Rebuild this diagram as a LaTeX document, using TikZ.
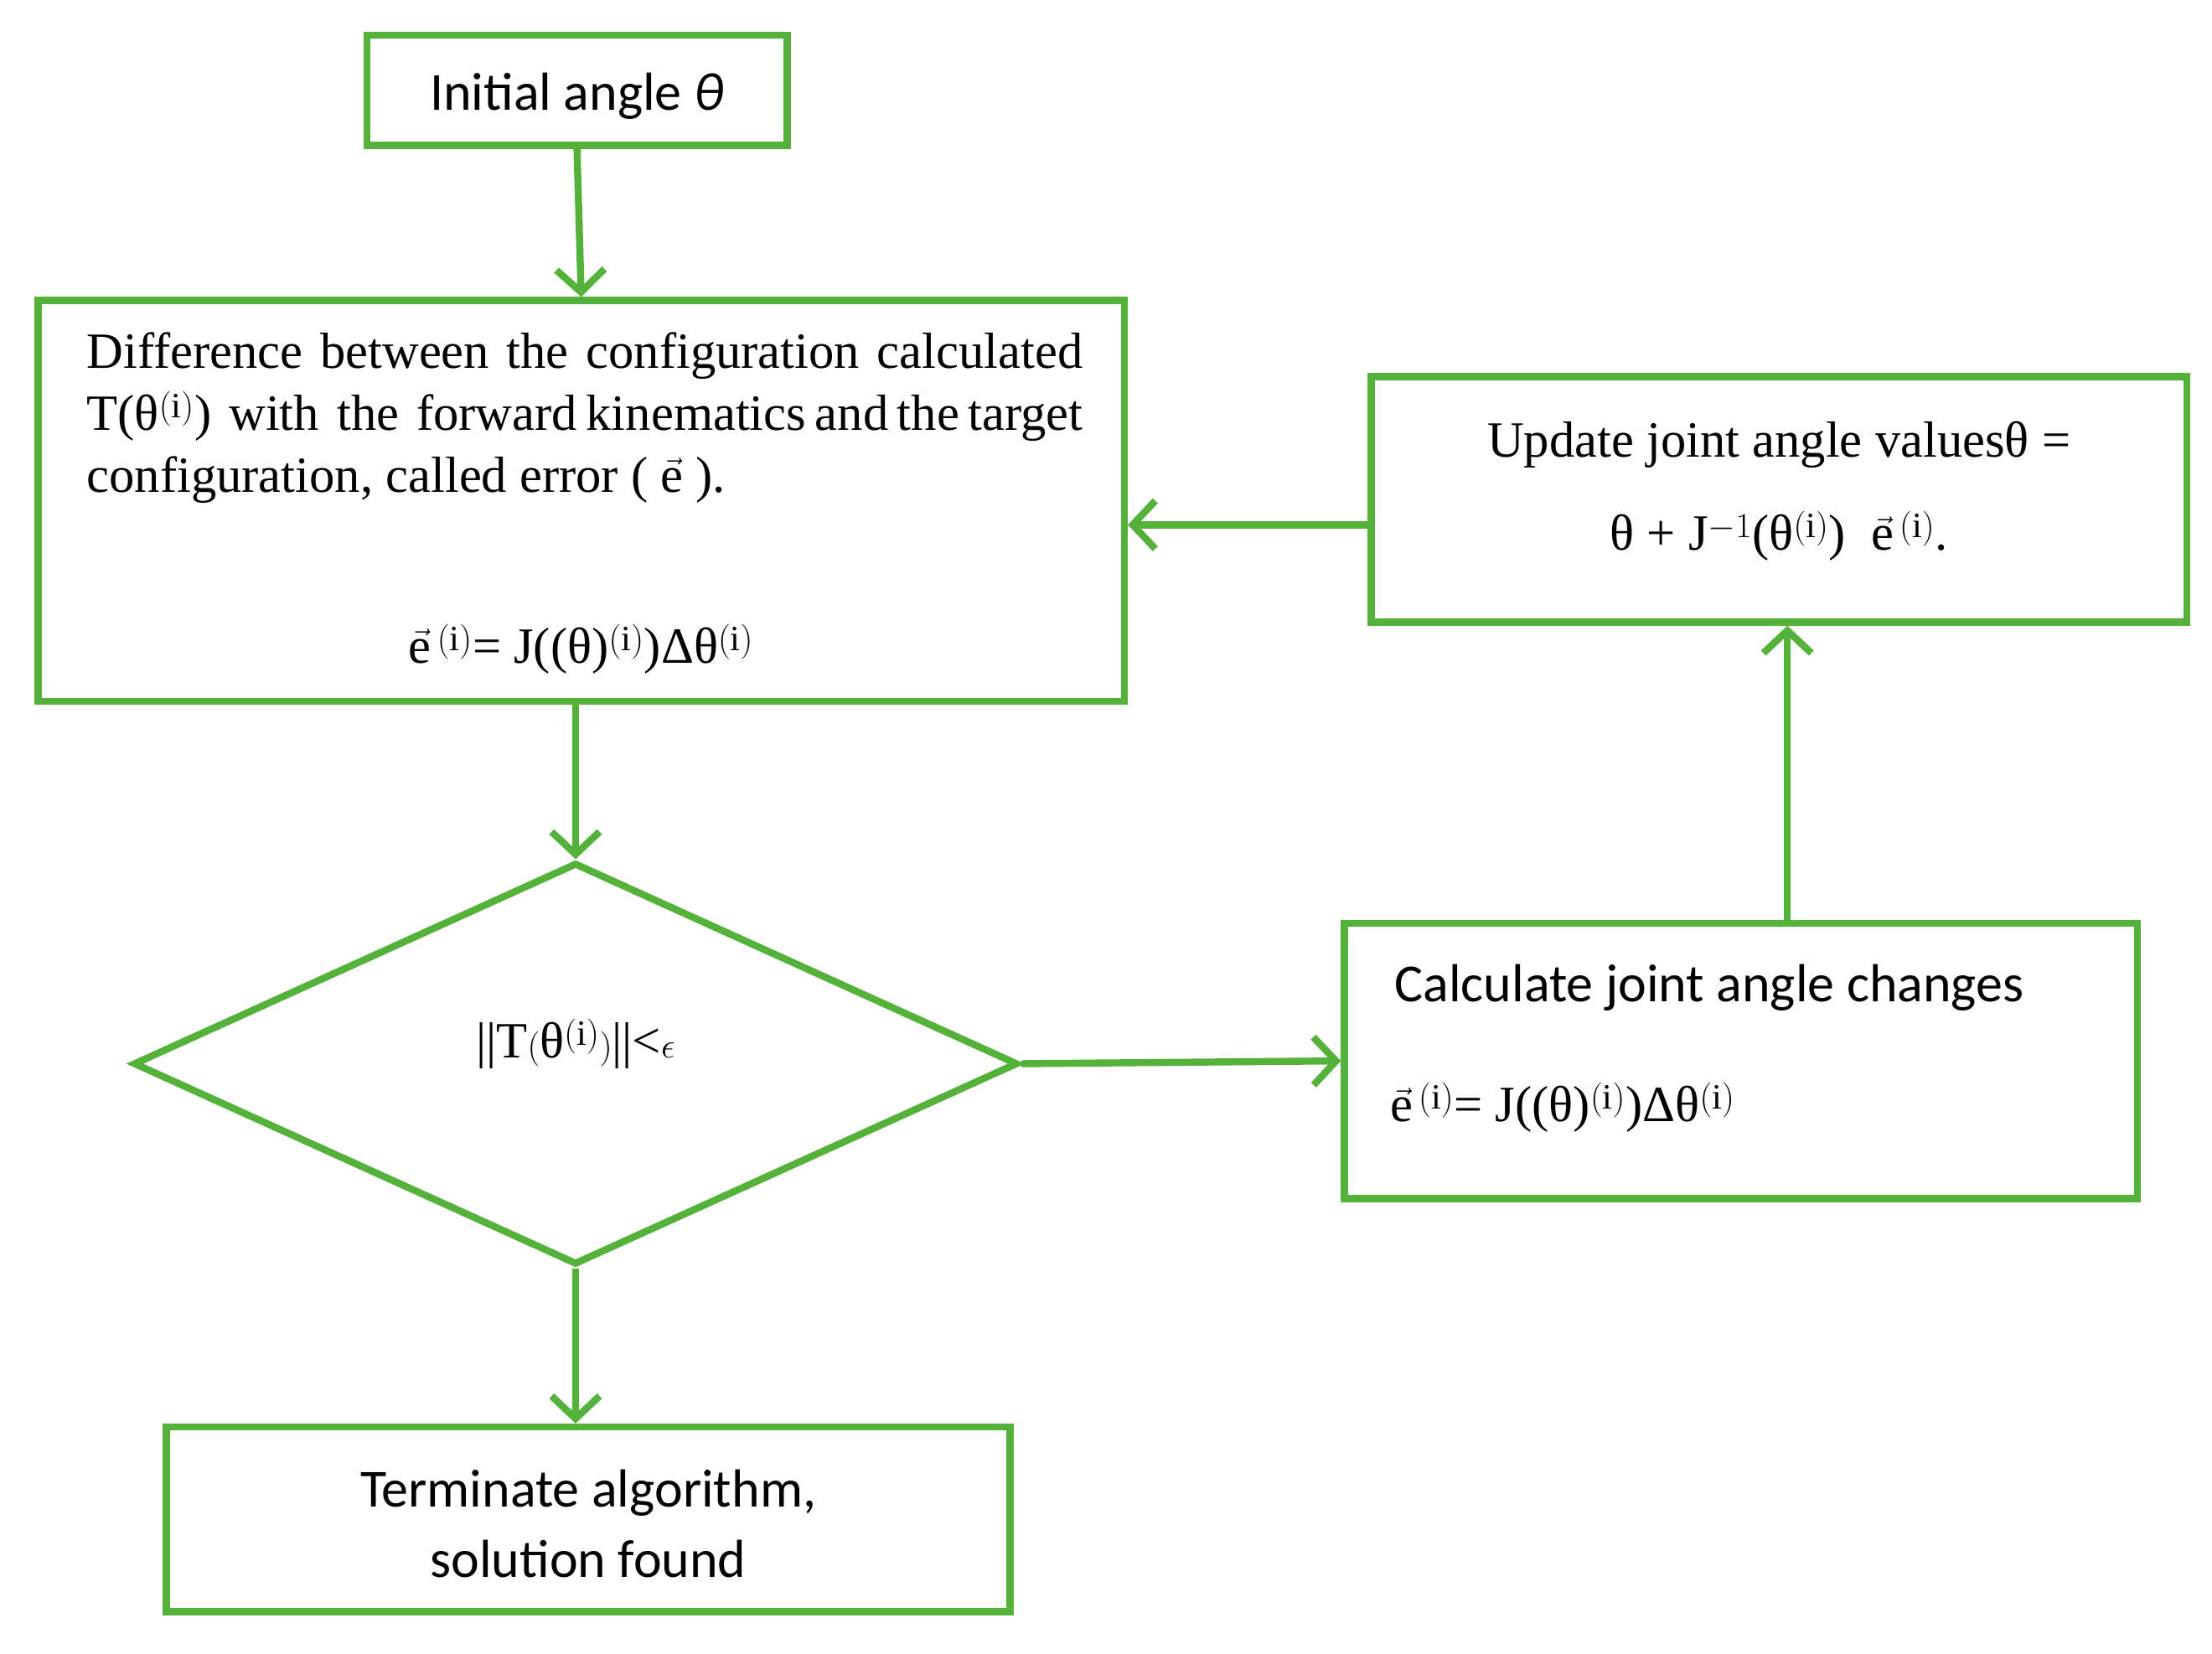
\documentclass[tikz,border=0pt]{standalone}
\usepackage{fontspec}
\setmainfont{Liberation Serif}
\newfontfamily\carl{Carlito}
\usetikzlibrary{shapes.geometric,arrows.meta}
\definecolor{gr}{RGB}{84,178,58}
\begin{document}
\begin{tikzpicture}[x=1pt,y=-1pt,
 bx/.style={draw=gr,line width=5pt,rectangle,inner sep=0pt},
 ar/.style={draw=gr,line width=5pt,-{Straight Barb[length=16pt,width=34pt,line width=5pt]}},
 every node/.style={font=\fontsize{36}{44}\selectfont}]
\useasboundingbox (0,0) rectangle (1568,1172);
\node[bx,minimum width=298pt,minimum height=78pt] (init) at (409,64) {};
\node[font=\carl\fontsize{38}{44}\selectfont] at (409,68) {Initial angle \textit{θ}};
\node[bx,minimum width=770pt,minimum height=284pt] (diff) at (412,355) {};
\node[anchor=north west,text width=706pt,align=justify] (dt) at (58,232) {Difference between the configuration calculated \ T(θ$^{\mathrm{(i)}}$) \ with \ the \ forward kinematics and the target configuration, called error ( $\vec{\mathrm{e}}$ ).};
\node at (412,460) {$\vec{\mathrm{e}}^{\,\mathrm{(i)}}$= J((θ)$^{\mathrm{(i)}}$)Δθ$^{\mathrm{(i)}}$};
\node[bx,minimum width=578pt,minimum height=174pt] (upd) at (1261,354) {};
\node at (1261,315) {Update joint angle valuesθ =};
\node at (1261,380) {θ + J$^{-1}$(θ$^{\mathrm{(i)}}$) \ $\vec{\mathrm{e}}^{\,\mathrm{(i)}}$.};
\node[draw=gr,line width=5pt,diamond,aspect=2.2,minimum width=627pt,minimum height=285pt,inner sep=0pt] (dia) at (408,754) {};
\node at (408,740) {||T$\bigl($θ$^{\mathrm{(i)}}\bigr)$||<$\epsilon$};
\node[bx,minimum width=562pt,minimum height=195pt] (calc) at (1234,752) {};
\node[anchor=west,font=\carl\fontsize{38}{44}\selectfont] at (985,700) {Calculate joint angle changes};
\node[anchor=west] at (982,785) {$\vec{\mathrm{e}}^{\,\mathrm{(i)}}$= J((θ)$^{\mathrm{(i)}}$)Δθ$^{\mathrm{(i)}}$};
\node[bx,minimum width=598pt,minimum height=131pt] (term) at (417,1077) {};
\node[font=\carl\fontsize{38}{44}\selectfont,align=center] at (417,1080) {Terminate algorithm,\\[6pt]solution found};
\draw[ar] (init.south) -- (diff.north);
\draw[ar] (diff.south -| dia.north) -- (dia.north);
\draw[ar] (dia.south) -- (dia.south |- term.north);
\draw[ar] (dia.east) -- (calc.west);
\draw[ar] (calc.north -| 1267,0) -- (upd.south -| 1267,0);
\draw[ar] (upd.west |- 0,372) -- (diff.east |- 0,372);
\end{tikzpicture}
\end{document}
